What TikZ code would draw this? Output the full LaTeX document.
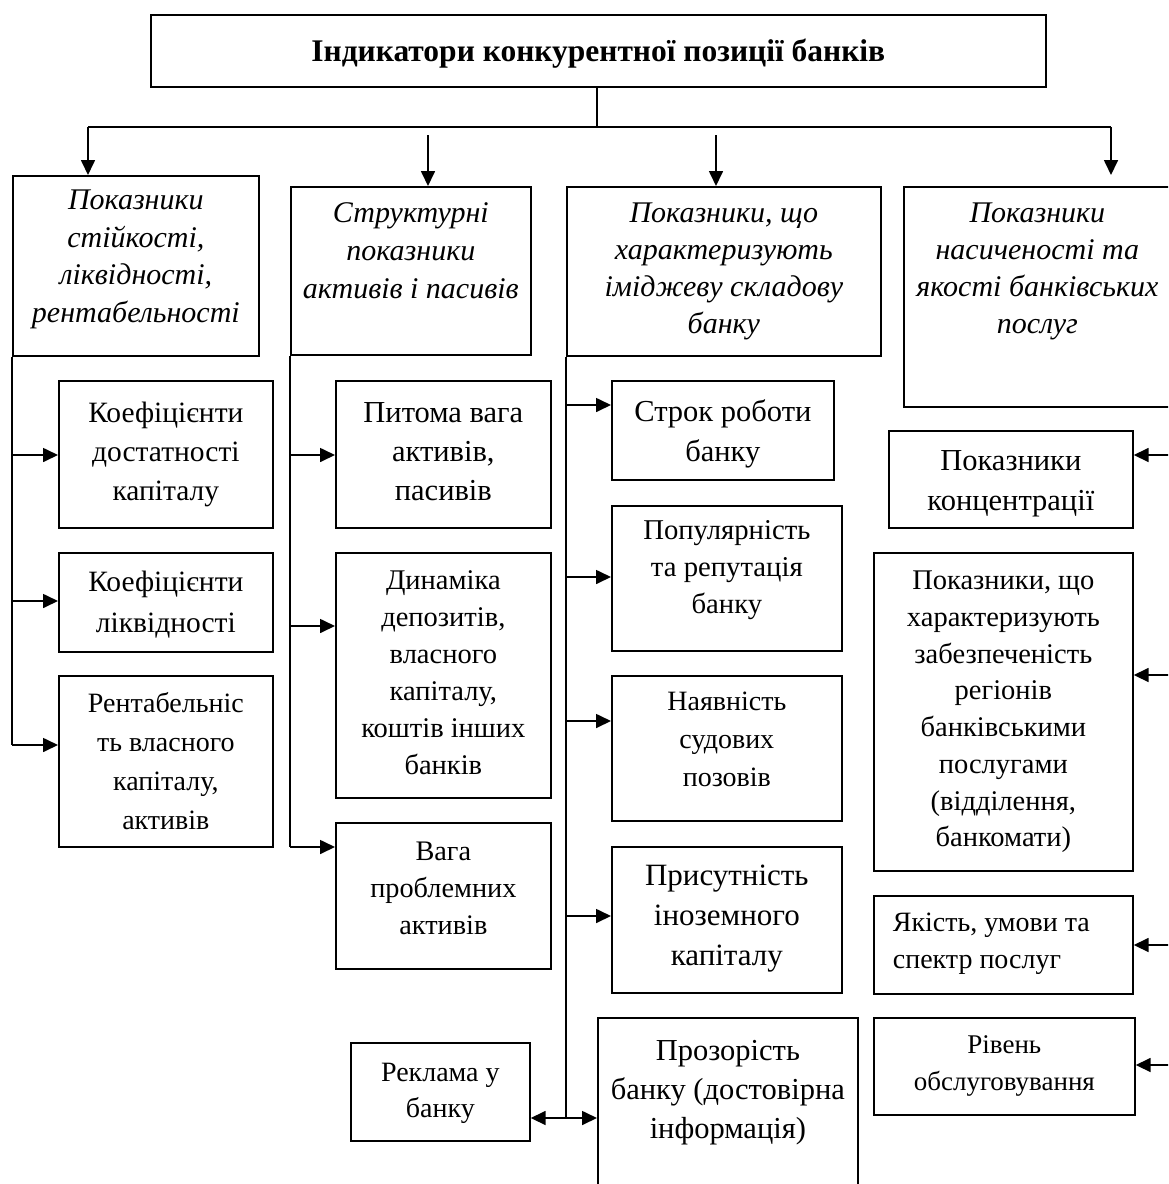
\documentclass[tikz,border=0pt]{standalone}
\usepackage{fontspec}
\setmainfont{Liberation Serif}
\usetikzlibrary{arrows.meta}
\tikzset{
  box/.style={draw, line width=1.7pt, inner sep=0pt, anchor=north west},
  conn/.style={line width=1.7pt},
  arr/.style={line width=1.7pt, -{Triangle[length=15pt,width=14pt]}},
  darr/.style={line width=1.7pt, {Triangle[length=15pt,width=14pt]}-{Triangle[length=15pt,width=14pt]}},
}
% name, x, y, w, h, first-baseline offset, font setup, text
\newcommand\bnode[8]{%
  \node[box] (#1) at (#2,#3) {\parbox[t][#5pt][t]{#4pt}{#7\centering\vspace*{\dimexpr#6pt-22pt\relax}\rule{0pt}{22pt}#8}};}
\newcommand\fz[2]{\fontsize{#1pt}{#2pt}\selectfont}
\begin{document}
\begin{tikzpicture}[x=1pt,y=-1pt]
\useasboundingbox (0,0) rectangle (1168,1184);
\clip (0,0) rectangle (1168,1184);
% title
\bnode{top}{150}{14}{895}{72}{46}{\fz{31.5}{36}\bfseries}{Індикатори конкурентної позиції банків}
% headers
\bnode{c1}{12}{175}{246}{180}{34}{\fz{30}{37.5}\itshape}{Показники\\стійкості,\\ліквідності,\\рентабельності}
\bnode{c2}{290}{186}{240}{168}{36}{\fz{30}{38}\itshape}{Структурні\\показники\\активів і пасивів}
\bnode{c3}{566}{186}{314}{169}{36}{\fz{30}{37}\itshape}{Показники, що\\характеризують\\іміджеву складову\\банку}
\bnode{c4}{903}{186}{267}{220}{36}{\fz{30}{37}\itshape}{Показники\\насиченості та\\якості банківських\\послуг}
% column 1
\bnode{k1}{58}{380}{214}{147}{42}{\fz{29.5}{39}}{Коефіцієнти\\достатності\\капіталу}
\bnode{k2}{58}{552}{214}{99}{39}{\fz{29.5}{41}}{Коефіцієнти\\ліквідності}
\bnode{k3}{58}{675}{214}{171}{37}{\fz{28}{39}}{Рентабельніс\\ть власного\\капіталу,\\активів}
% column 2
\bnode{p1}{335}{380}{215}{147}{42}{\fz{30.5}{39}}{Питома вага\\активів,\\пасивів}
\bnode{p2}{335}{552}{215}{245}{37}{\fz{28.5}{37}}{Динаміка\\депозитів,\\власного\\капіталу,\\коштів інших\\банків}
\bnode{p3}{335}{822}{215}{146}{38}{\fz{28.3}{37}}{Вага\\проблемних\\активів}
% column 3
\bnode{s1}{611}{380}{222}{99}{41}{\fz{30.5}{40}}{Строк роботи\\банку}
\bnode{s2}{611}{505}{230}{145}{34}{\fz{28.7}{37}}{Популярність\\та репутація\\банку}
\bnode{s3}{611}{675}{230}{145}{35}{\fz{28}{38}}{Наявність\\судових\\позовів}
\bnode{s4}{611}{846}{230}{146}{39}{\fz{31}{40}}{Присутність\\іноземного\\капіталу}
\bnode{s5}{597}{1017}{260}{200}{43}{\fz{30.5}{39}}{Прозорість\\банку (достовірна\\інформація)}
\bnode{r}{350}{1042}{179}{98}{39}{\fz{28}{36}}{Реклама у\\банку}
% column 4
\bnode{q1}{888}{430}{244}{97}{40}{\fz{30.5}{40}}{Показники\\концентрації}
\bnode{q2}{873}{552}{259}{318}{37}{\fz{28.5}{36.7}}{Показники, що\\характеризують\\забезпеченість\\регіонів\\банківськими\\послугами\\(відділення,\\банкомати)}
\node[box] (q3) at (873,895) {\parbox[t][98pt][t]{259pt}{\fz{28}{37}\raggedright\leftskip=19pt\vspace*{14pt}\rule{0pt}{22pt}Якість, умови та\\спектр послуг}};
\bnode{q4}{873}{1017}{261}{97}{36}{\fz{27}{37}}{Рівень\\обслуговування}
% top connectors
\coordinate (hub) at (597,127);
\coordinate (hl) at (88,127);
\coordinate (hr) at (1111,127);
\coordinate (a2) at (428,135);
\coordinate (a3) at (716,135);
\coordinate (a4) at (1111,175);
\draw[conn] (top.south -| hub) -- (hub);
\draw[conn] (hl) -- (hr);
\draw[arr] (hl) -- (hl |- c1.north);
\draw[arr] (hr) -- (a4);
\draw[arr] (a2) -- (a2 |- c2.north);
\draw[arr] (a3) -- (a3 |- c3.north);
% column 1 spine
\coordinate (l1) at (12,745);
\draw[conn] (c1.south west) -- (l1);
\draw[arr] (12,455) -- (k1.west |- 0,455);
\draw[arr] (12,601) -- (k2.west |- 0,601);
\draw[arr] (l1) -- (k3.west |- l1);
% column 2 spine
\coordinate (l2) at (290,847);
\draw[conn] (c2.south west) -- (l2);
\draw[arr] (290,455) -- (p1.west |- 0,455);
\draw[arr] (290,626) -- (p2.west |- 0,626);
\draw[arr] (l2) -- (p3.west |- l2);
% column 3 spine
\coordinate (l3) at (566,1118);
\draw[conn] (c3.south west) -- (l3);
\draw[arr] (566,405) -- (s1.west |- 0,405);
\draw[arr] (566,577) -- (s2.west |- 0,577);
\draw[arr] (566,721) -- (s3.west |- 0,721);
\draw[arr] (566,916) -- (s4.west |- 0,916);
\draw[darr] (r.east |- l3) -- (s5.west |- l3);
% column 4 spine (at the clipped right edge)
\coordinate (rt) at (1176,406);
\coordinate (rb) at (1176,1065);
\draw[conn] (rt) -- (rb);
\draw[arr] (1176,455) -- (q1.east |- 0,455);
\draw[arr] (1176,675) -- (q2.east |- 0,675);
\draw[arr] (1176,945) -- (q3.east |- 0,945);
\draw[arr] (rb) -- (q4.east |- rb);
\end{tikzpicture}
\end{document}
